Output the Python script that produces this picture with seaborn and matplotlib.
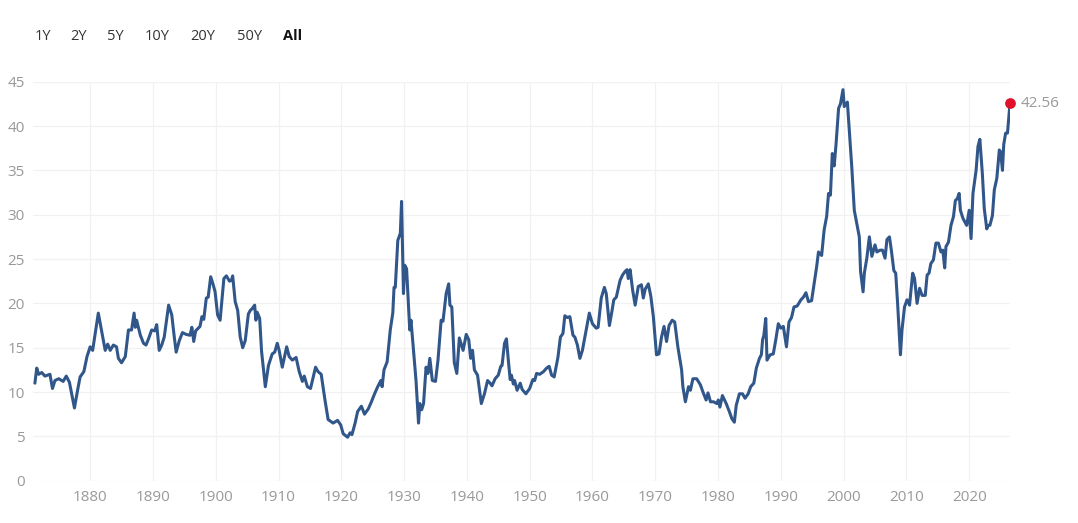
import matplotlib
matplotlib.use('Agg')
import numpy as np
import pandas as pd
import matplotlib.pyplot as plt
import seaborn as sns

# Shiller CAPE ratio (decimal years)
years = [
    1871.2, 1871.5, 1871.8, 1872.3, 1872.8, 1873.6, 1874.0, 1874.4, 1875.0, 1875.7,
    1876.2, 1876.7, 1877.5, 1878.0, 1878.4, 1879.0, 1879.5, 1880.0, 1880.4, 1881.3,
    1882.4, 1882.8, 1883.2, 1883.7, 1884.2, 1884.5, 1885.0, 1885.6, 1886.1, 1886.6,
    1887.0, 1887.2, 1887.4, 1888.0, 1888.5, 1888.9, 1889.3, 1889.8, 1890.3, 1890.6,
    1891.0, 1891.4, 1891.8, 1892.5, 1893.0, 1893.4, 1893.7, 1894.2, 1894.7, 1895.3,
    1895.9, 1896.2, 1896.5, 1896.8, 1897.5, 1897.8, 1898.1, 1898.5, 1898.8, 1899.2,
    1899.6, 1899.9, 1900.3, 1900.7, 1901.3, 1901.7, 1902.2, 1902.5, 1902.7, 1903.1,
    1903.5, 1903.9, 1904.3, 1904.7, 1905.2, 1905.5, 1905.8, 1906.2, 1906.4, 1906.6,
    1907.0, 1907.3, 1907.9, 1908.4, 1909.0, 1909.4, 1909.8, 1910.1, 1910.6, 1911.3,
    1911.7, 1912.2, 1912.8, 1913.3, 1913.8, 1914.1, 1914.6, 1915.1, 1915.9, 1916.3,
    1916.8, 1917.4, 1917.9, 1918.7, 1919.4, 1919.9, 1920.3, 1921.0, 1921.4, 1921.7,
    1922.2, 1922.6, 1923.2, 1923.7, 1924.3, 1924.8, 1925.3, 1925.8, 1926.3, 1926.5,
    1926.8, 1927.3, 1927.8, 1928.2, 1928.4, 1928.6, 1929.0, 1929.4, 1929.6, 1929.9,
    1930.1, 1930.4, 1930.9, 1931.1, 1931.4, 1931.9, 1932.3, 1932.5, 1932.8, 1933.1,
    1933.5, 1933.8, 1934.1, 1934.5, 1935.0, 1935.4, 1935.9, 1936.2, 1936.7, 1937.1,
    1937.3, 1937.6, 1938.0, 1938.4, 1938.8, 1939.4, 1939.9, 1940.3, 1940.6, 1940.9,
    1941.2, 1941.7, 1942.3, 1942.8, 1943.3, 1943.7, 1944.0, 1944.5, 1945.0, 1945.4,
    1945.6, 1946.0, 1946.3, 1946.6, 1946.9, 1947.1, 1947.4, 1947.6, 1948.0, 1948.5,
    1948.8, 1949.4, 1950.0, 1950.5, 1950.8, 1951.1, 1951.6, 1952.2, 1952.7, 1953.1,
    1953.5, 1953.9, 1954.5, 1954.9, 1955.3, 1955.6, 1956.0, 1956.4, 1956.9, 1957.2,
    1957.6, 1958.0, 1958.4, 1959.0, 1959.5, 1960.0, 1960.6, 1960.9, 1961.4, 1961.9,
    1962.2, 1962.7, 1963.1, 1963.4, 1963.8, 1964.4, 1964.8, 1965.2, 1965.5, 1965.7,
    1966.0, 1966.4, 1966.8, 1967.3, 1967.8, 1968.1, 1968.4, 1968.9, 1969.3, 1969.7,
    1970.2, 1970.6, 1971.0, 1971.4, 1971.8, 1972.2, 1972.7, 1973.1, 1973.6, 1974.2,
    1974.4, 1974.8, 1975.3, 1975.6, 1976.0, 1976.6, 1977.2, 1977.6, 1978.1, 1978.4,
    1978.8, 1979.3, 1979.8, 1980.05, 1980.3, 1980.7, 1981.3, 1981.8, 1982.2, 1982.6,
    1982.9, 1983.4, 1983.9, 1984.3, 1984.8, 1985.2, 1985.7, 1986.1, 1986.6, 1986.9,
    1987.1, 1987.3, 1987.6, 1987.8, 1988.3, 1988.8, 1989.2, 1989.6, 1990.0, 1990.4,
    1990.9, 1991.3, 1991.7, 1992.1, 1992.6, 1993.2, 1993.6, 1994.0, 1994.4, 1994.9,
    1995.3, 1995.7, 1996.0, 1996.5, 1996.9, 1997.3, 1997.6, 1997.9, 1998.2, 1998.5,
    1998.8, 1999.2, 1999.5, 1999.9, 2000.1, 2000.4, 2000.6, 2000.9, 2001.3, 2001.7,
    2002.1, 2002.5, 2002.7, 2003.1, 2003.3, 2003.7, 2004.1, 2004.5, 2005.0, 2005.3,
    2005.8, 2006.2, 2006.6, 2006.9, 2007.3, 2007.6, 2008.0, 2008.3, 2008.6, 2009.05,
    2009.3, 2009.7, 2010.1, 2010.5, 2011.0, 2011.3, 2011.7, 2012.1, 2012.5, 2013.0,
    2013.3, 2013.6, 2013.9, 2014.3, 2014.7, 2015.1, 2015.5, 2015.8, 2016.1, 2016.3,
    2016.7, 2017.1, 2017.5, 2017.8, 2018.1, 2018.4, 2018.6, 2019.0, 2019.6, 2020.0,
    2020.3, 2020.6, 2021.1, 2021.4, 2021.7, 2022.1, 2022.4, 2022.8, 2023.0, 2023.3,
    2023.7, 2024.0, 2024.4, 2024.8, 2025.0, 2025.3, 2025.5, 2025.8, 2026.1, 2026.5,
]
cape = [
    11.0, 12.7, 12.0, 12.2, 11.8, 12.0, 10.4, 11.3, 11.5, 11.2,
    11.8, 11.1, 8.2, 10.2, 11.7, 12.3, 14.0, 15.1, 14.7, 18.9,
    14.7, 15.4, 14.7, 15.3, 15.1, 13.8, 13.3, 14.0, 17.0, 17.0,
    18.9, 17.3, 18.1, 16.4, 15.5, 15.3, 16.0, 17.0, 16.9, 17.6,
    14.7, 15.3, 16.2, 19.8, 18.7, 16.2, 14.5, 15.8, 16.7, 16.5,
    16.4, 17.3, 15.7, 16.9, 17.4, 18.5, 18.2, 20.6, 20.7, 23.0,
    22.1, 21.3, 18.7, 18.1, 22.8, 23.1, 22.5, 22.6, 23.1, 20.2,
    19.2, 16.2, 15.0, 15.8, 18.8, 19.2, 19.4, 19.8, 18.1, 19.0,
    18.3, 14.6, 10.6, 13.0, 14.3, 14.5, 15.5, 14.7, 12.8, 15.1,
    14.0, 13.6, 13.9, 12.3, 11.2, 11.8, 10.6, 10.4, 12.8, 12.3,
    12.0, 9.1, 6.9, 6.5, 6.8, 6.3, 5.3, 4.9, 5.4, 5.2,
    6.5, 7.8, 8.4, 7.5, 8.1, 8.9, 9.8, 10.6, 11.3, 10.6,
    12.5, 13.4, 17.0, 18.9, 21.8, 21.8, 27.1, 27.9, 31.5, 21.1,
    24.3, 23.9, 17.0, 18.1, 15.5, 11.3, 6.5, 8.7, 8.0, 8.7,
    12.8, 12.1, 13.8, 11.3, 11.2, 13.6, 18.1, 18.0, 21.1, 22.2,
    19.8, 19.6, 13.3, 12.1, 16.1, 14.7, 16.5, 15.9, 13.8, 14.7,
    12.5, 11.9, 8.7, 9.8, 11.3, 11.0, 10.7, 11.5, 11.9, 12.9,
    13.0, 15.5, 16.0, 13.6, 11.4, 11.9, 10.9, 11.3, 10.2, 11.0,
    10.3, 9.8, 10.4, 11.4, 11.3, 12.1, 12.0, 12.3, 12.7, 12.9,
    11.9, 11.7, 13.9, 16.2, 16.6, 18.6, 18.4, 18.5, 16.4, 16.2,
    15.3, 13.8, 14.7, 17.0, 18.9, 17.7, 17.2, 17.3, 20.6, 21.8,
    21.1, 17.5, 19.1, 20.4, 20.7, 22.6, 23.2, 23.6, 23.8, 22.8,
    23.8, 21.5, 19.8, 21.9, 22.1, 20.6, 21.6, 22.2, 20.8, 18.5,
    14.2, 14.3, 16.2, 17.4, 15.7, 17.5, 18.1, 17.9, 15.1, 12.5,
    10.6, 8.9, 10.6, 10.2, 11.5, 11.5, 10.8, 10.0, 9.1, 9.9,
    8.9, 8.9, 8.7, 9.1, 8.3, 9.6, 8.7, 7.8, 7.0, 6.6,
    8.5, 9.8, 9.8, 9.3, 9.8, 10.6, 11.0, 12.7, 13.8, 14.2,
    15.9, 16.4, 18.3, 13.6, 14.2, 14.3, 15.9, 17.7, 17.2, 17.4,
    15.1, 17.9, 18.4, 19.6, 19.7, 20.4, 20.7, 21.2, 20.2, 20.3,
    22.2, 24.1, 25.8, 25.4, 28.3, 29.8, 32.4, 32.2, 36.9, 35.5,
    38.0, 42.0, 42.5, 44.1, 42.2, 42.5, 42.7, 39.5, 35.4, 30.5,
    29.0, 27.5, 23.6, 21.3, 23.4, 25.1, 27.5, 25.3, 26.6, 25.8,
    26.0, 26.0, 25.1, 27.2, 27.5, 26.0, 23.7, 23.4, 20.0, 14.2,
    17.0, 19.6, 20.4, 19.8, 23.4, 22.8, 20.0, 21.7, 20.9, 20.9,
    23.2, 23.4, 24.5, 24.9, 26.8, 26.8, 25.8, 26.0, 24.0, 26.4,
    26.9, 28.8, 29.8, 31.6, 31.8, 32.4, 30.5, 29.6, 28.8, 30.5,
    27.3, 32.4, 35.0, 37.7, 38.5, 34.6, 30.7, 28.4, 28.8, 28.8,
    29.9, 32.8, 34.1, 37.3, 37.1, 35.0, 37.9, 39.2, 39.2, 42.56,
]
range_buttons = ["1Y", "2Y", "5Y", "10Y", "20Y", "50Y", "All"]
x_ticks = list(range(1880, 2021, 10))
y_ticks = list(range(0, 46, 5))

df = pd.DataFrame({"year": years, "cape": cape})

sns.set_theme(style="white")
plt.rcParams['font.family'] = ['Open Sans', 'DejaVu Sans']

W, H = 1078, 523
fig = plt.figure(figsize=(W / 100, H / 100), dpi=100)
ax = fig.add_axes([33 / W, (H - 480.7) / H, (1010 - 33) / W, (480.7 - 81.7) / H])

sns.lineplot(data=df, x="year", y="cape", ax=ax, color="#31578a", linewidth=2.2, zorder=3)

# last value marker and label
last_x, last_y = years[-1], cape[-1]
ax.scatter([last_x], [last_y], s=45, color="#e0112b", zorder=4, clip_on=False)
ax.annotate(f"{last_y:.2f}", (last_x, last_y), xytext=(8, 0), textcoords="offset points",
            va="center", ha="left", fontsize=11, color="#999999", annotation_clip=False)

ax.set_xlim(1870.9, 2026.5)
ax.set_ylim(0, 45)
ax.set_xticks(x_ticks)
ax.set_yticks(y_ticks)
ax.grid(True, color="#f1f1f1", linewidth=0.9)
ax.set_axisbelow(True)
for s in ax.spines.values():
    s.set_visible(False)
ax.tick_params(axis="both", length=0, labelsize=11, labelcolor="#999999")
ax.tick_params(axis="x", pad=7)
ax.tick_params(axis="y", pad=6)
ax.set_xlabel("")
ax.set_ylabel("")

# range selector buttons
btn_x = [35, 70, 107, 145, 190, 237, 283]
for lbl, bx in zip(range_buttons, btn_x):
    fig.text(bx / W, 1 - 36 / H, lbl, ha="left", va="center", fontsize=10.5,
             color="#111111" if lbl == "All" else "#333333",
             fontweight="bold" if lbl == "All" else "normal")

plt.savefig("out.png", dpi=100)
